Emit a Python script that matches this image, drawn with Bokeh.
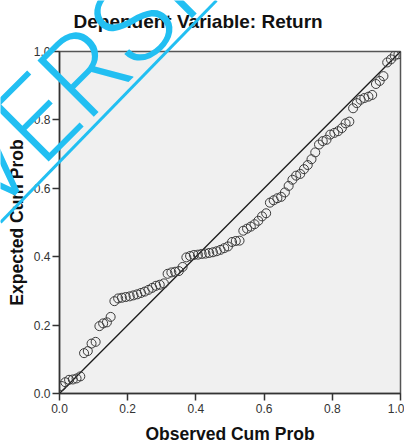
from bokeh.plotting import figure
from bokeh.layouts import column
from bokeh.models import Range1d, PrintfTickFormatter
from bokeh.core.properties import value
from bokeh.embed import file_html
from bokeh.resources import INLINE

# Normal P-P plot of regression standardized residuals
observed = [0.006, 0.017, 0.028, 0.039, 0.050, 0.061, 0.072, 0.083, 0.094, 0.106,
            0.117, 0.128, 0.139, 0.150, 0.161, 0.172, 0.183, 0.194, 0.206, 0.217,
            0.228, 0.239, 0.250, 0.261, 0.272, 0.283, 0.294, 0.306, 0.317, 0.328,
            0.339, 0.350, 0.361, 0.372, 0.383, 0.394, 0.406, 0.417, 0.428, 0.439,
            0.450, 0.461, 0.472, 0.483, 0.494, 0.506, 0.517, 0.528, 0.539, 0.550,
            0.561, 0.572, 0.583, 0.594, 0.606, 0.617, 0.628, 0.639, 0.650, 0.661,
            0.672, 0.683, 0.694, 0.706, 0.717, 0.728, 0.739, 0.750, 0.761, 0.772,
            0.783, 0.794, 0.806, 0.817, 0.828, 0.839, 0.850, 0.861, 0.872, 0.883,
            0.894, 0.906, 0.917, 0.928, 0.939, 0.950, 0.961, 0.972, 0.983, 0.994]
expected = [0.022, 0.033, 0.040, 0.041, 0.044, 0.050, 0.118, 0.124, 0.146, 0.151,
            0.197, 0.205, 0.208, 0.224, 0.270, 0.278, 0.280, 0.282, 0.284, 0.287,
            0.290, 0.294, 0.298, 0.303, 0.309, 0.315, 0.318, 0.322, 0.350, 0.354,
            0.356, 0.358, 0.370, 0.398, 0.402, 0.405, 0.406, 0.408, 0.409, 0.411,
            0.413, 0.416, 0.420, 0.425, 0.430, 0.443, 0.446, 0.447, 0.476, 0.482,
            0.488, 0.495, 0.505, 0.518, 0.527, 0.558, 0.565, 0.571, 0.575, 0.588,
            0.607, 0.625, 0.637, 0.642, 0.656, 0.668, 0.685, 0.705, 0.728, 0.738,
            0.742, 0.757, 0.762, 0.767, 0.776, 0.790, 0.795, 0.834, 0.849, 0.859,
            0.864, 0.868, 0.873, 0.905, 0.914, 0.928, 0.968, 0.977, 0.988, 0.992]
diag = [0.0, 1.0]
ticks = [0.0, 0.2, 0.4, 0.6, 0.8, 1.0]
title_text = "Dependent Variable: Return"

FONT = "Liberation Sans"
W, H = 404, 446

p = figure(width=W, height=H, output_backend="svg", toolbar_location=None, title=None,
           x_range=Range1d(0, 1), y_range=Range1d(0, 1),
           min_border_left=59, min_border_right=4, min_border_top=51, min_border_bottom=53,
           background_fill_color="#f0f0f0", border_fill_color="white")

p.grid.visible = False
p.outline_line_color = "#555555"
p.outline_line_width = 1.5

for ax in (p.xaxis[0], p.yaxis[0]):
    ax.ticker = ticks
    ax.formatter = PrintfTickFormatter(format="%.1f")
    ax.minor_tick_line_color = None
    ax.major_tick_in = 0
    ax.major_tick_out = 7
    ax.major_tick_line_color = "#333333"
    ax.major_tick_line_width = 1.5
    ax.axis_line_color = "#333333"
    ax.axis_line_width = 1.5
    ax.major_label_text_font = FONT
    ax.major_label_text_font_size = "12px"
    ax.major_label_text_color = "#333333"
    ax.axis_label_text_font = FONT
    ax.axis_label_text_font_size = "17.5px"
    ax.axis_label_text_font_style = "bold"
    ax.axis_label_text_color = "#111111"

p.xaxis.axis_label = "Observed Cum Prob"
p.yaxis.axis_label = "Expected Cum Prob"
p.xaxis.major_label_standoff = 3
p.yaxis.major_label_standoff = 2
p.xaxis.axis_label_standoff = 8
p.yaxis.axis_label_standoff = 4

# reference line and observed points
p.line(diag, diag, line_color="#1a1a1a", line_width=1.3)
p.scatter(observed, expected, size=9, marker="circle", fill_color=None,
          line_color="#3a3a3a", line_width=1)

# transparent layer on top of the chart: heading and the diagonal stamp,
# placed in pixel units measured from the top-left corner
CYAN = "#22bff2"
top = figure(width=W, height=H, output_backend="svg", toolbar_location=None, title=None,
             x_range=Range1d(0, W), y_range=Range1d(H, 0), min_border=0,
             x_axis_type=None, y_axis_type=None,
             background_fill_alpha=0, border_fill_alpha=0,
             styles={"position": "absolute", "top": "0px", "left": "0px"})
top.grid.visible = False
top.outline_line_color = None
# keep the two canvases independent instead of lining up their frames
for fig in (p, top):
    if hasattr(fig, "frame_align"):
        fig.frame_align = False

top.text(x=[73], y=[21], text=[title_text], text_font=value(FONT),
         text_font_size="19px", text_font_style="bold", text_color="#111111",
         text_baseline="alphabetic", text_align="left")
top.line([0, 216], [222, 0], line_color=CYAN, line_width=3)
top.text(x=[-35], y=[190], text=["VERSION"], angle=45, angle_units="deg",
         text_font=value("Roboto Light"), text_font_size="112px",
         text_color=CYAN, text_baseline="alphabetic", text_align="left")

layout = column(p, top, styles={"position": "relative"})
open("out.html", "w").write(file_html(layout, INLINE))
